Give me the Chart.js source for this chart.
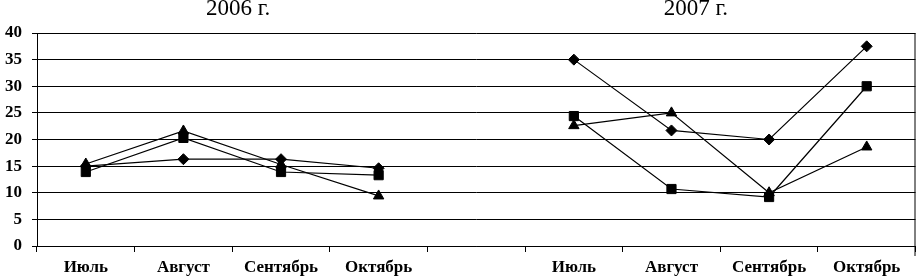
<!DOCTYPE html>
<html>
<head>
<meta charset="utf-8">
<script src="https://cdn.jsdelivr.net/npm/chart.js@4"></script>
<style>
  html, body { margin: 0; padding: 0; background: #fff; }
  #wrap { width: 923px; height: 276px; }
</style>
</head>
<body>
<div id="wrap"><canvas id="lineChartCanvas"></canvas></div>
<script>
// months, the 5th slot is the empty gap between the two years
var labels = ['Июль', 'Август', 'Сентябрь', 'Октябрь', '', 'Июль', 'Август', 'Сентябрь', 'Октябрь'];
var yearTitles = ['2006 г.', '2007 г.'];
var yTicks = [0, 5, 10, 15, 20, 25, 30, 35, 40];

var diamondValues = [15, 16.3, 16.3, 14.6, null, 35, 21.7, 20, 37.5];
var squareValues = [13.9, 20.3, 13.9, 13.3, null, 24.4, 10.7, 9.2, 30];
var triangleValues = [15.4, 21.6, 15.3, 9.4, null, 22.6, 25, 10, 18.6];

var serif = '"Liberation Serif", "Times New Roman", serif';

// year captions above the plot + right frame line
var extras = {
  id: 'extras',
  afterDraw: function (chart) {
    var ctx = chart.ctx;
    var a = chart.chartArea;
    ctx.save();
    ctx.fillStyle = '#000';
    ctx.font = '23px ' + serif;
    ctx.textAlign = 'center';
    ctx.textBaseline = 'alphabetic';
    ctx.fillText(yearTitles[0], a.left + (a.right - a.left) * 0.229, 15);
    ctx.fillText(yearTitles[1], a.left + (a.right - a.left) * 0.75, 15);
    ctx.strokeStyle = '#000';
    ctx.lineWidth = 1;
    ctx.beginPath();
    ctx.moveTo(a.right - 0.5, a.top);
    ctx.lineTo(a.right - 0.5, a.bottom + 10);
    ctx.stroke();
    ctx.restore();
  }
};

function series(values, style, radius) {
  return {
    data: values,
    borderColor: '#000',
    backgroundColor: '#000',
    borderWidth: 1.2,
    pointStyle: style,
    pointRadius: radius,
    pointBorderWidth: 1,
    pointBackgroundColor: '#000',
    pointBorderColor: '#000',
    spanGaps: false,
    fill: false
  };
}

var ctx = document.getElementById('lineChartCanvas').getContext('2d');
var lineChart = new Chart(ctx, {
  type: 'line',
  data: {
    labels: labels,
    datasets: [
      series(diamondValues, 'rectRot', 5.5),
      series(squareValues, 'rect', 6.5),
      series(triangleValues, 'triangle', 6)
    ]
  },
  plugins: [extras],
  options: {
    responsive: true,
    maintainAspectRatio: false,
    animation: false,
    layout: { padding: { top: 33, right: 1, left: 0, bottom: 0 } },
    plugins: {
      legend: { display: false },
      tooltip: { enabled: false }
    },
    scales: {
      x: {
        offset: true,
        grid: {
          offset: true,
          drawOnChartArea: false,
          drawTicks: true,
          tickLength: 6,
          color: '#000'
        },
        border: { display: true, color: '#000' },
        ticks: {
          color: '#000',
          font: { family: serif, size: 17, weight: 'bold' },
          padding: 5,
          maxRotation: 0,
          autoSkip: false
        },
        afterFit: function (scale) { scale.height = 30; }
      },
      y: {
        min: 0,
        max: 40,
        afterBuildTicks: function (scale) {
          scale.ticks = yTicks.map(function (v) { return { value: v }; });
        },
        grid: {
          color: '#000',
          drawTicks: true,
          tickLength: 5
        },
        border: { display: true, color: '#000' },
        ticks: {
          color: '#000',
          font: { family: serif, size: 17, weight: 'bold' },
          padding: 10
        },
        afterFit: function (scale) { scale.width = 37; }
      }
    }
  }
});
</script>
</body>
</html>
